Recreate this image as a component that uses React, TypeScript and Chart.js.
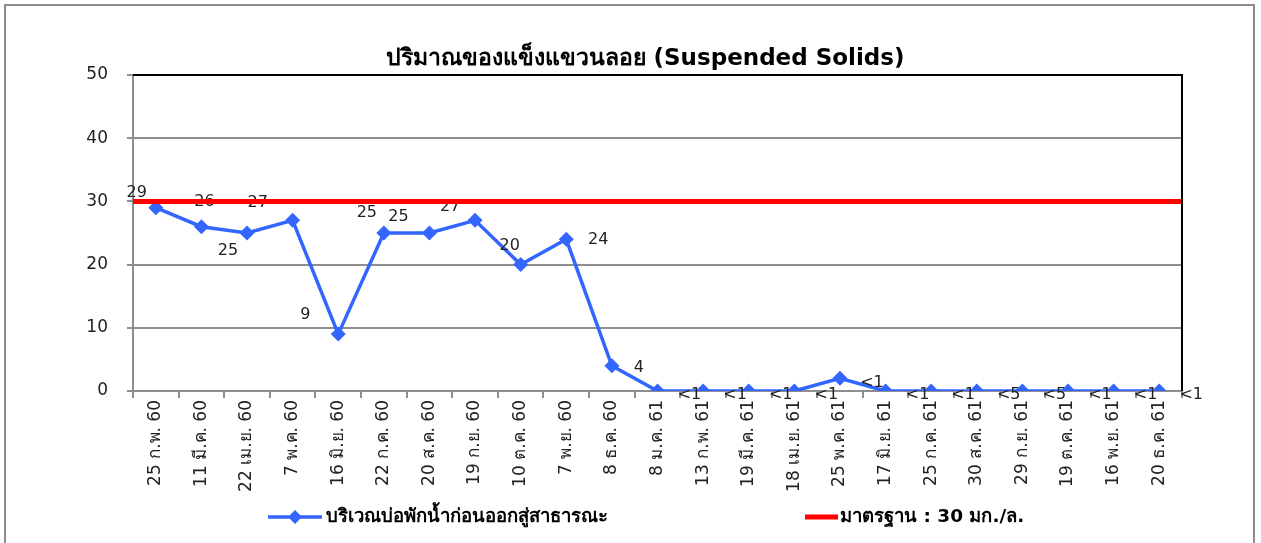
import React, { useEffect, useRef } from 'react';
import { Chart, registerables } from 'chart.js';

Chart.register(...registerables);

const chartTitle = 'ปริมาณของแข็งแขวนลอย (Suspended Solids)';
const categories = [
  '25 ก.พ. 60', '11 มี.ค. 60', '22 เม.ย. 60', '7 พ.ค. 60', '16 มิ.ย. 60', '22 ก.ค. 60',
  '20 ส.ค. 60', '19 ก.ย. 60', '10 ต.ค. 60', '7 พ.ย. 60', '8 ธ.ค. 60', '8 ม.ค. 61',
  '13 ก.พ. 61', '19 มี.ค. 61', '18 เม.ย. 61', '25 พ.ค. 61', '17 มิ.ย. 61', '25 ก.ค. 61',
  '30 ส.ค. 61', '29 ก.ย. 61', '19 ต.ค. 61', '16 พ.ย. 61', '20 ธ.ค. 61',
];
const siteValues = [29, 26, 25, 27, 9, 25, 25, 27, 20, 24, 4, 0, 0, 0, 0, 2, 0, 0, 0, 0, 0, 0, 0];
const siteLabels = ['29', '26', '25', '27', '9', '25', '25', '27', '20', '24', '4',
  '<1', '<1', '<1', '<1', '<1', '<1', '<1', '<5', '<5', '<1', '<1', '<1'];
const standardValues = [30, 30];
const seriesNames = ['บริเวณบ่อพักน้ำก่อนออกสู่สาธารณะ', 'มาตรฐาน : 30 มก./ล.'];
const yMin = 0;
const yMax = 50;
const yStep = 10;

// label placement (style): pixel offsets of each data label from its point
const labelOffsets: [number, number][] = [
  [-19, -15], [3, -25], [-19, 18], [-35, -18], [-33, -19], [-17, -20], [-31, -16],
  [-25, -14], [-11, -19], [32, 1], [27, 2],
  [32, 4], [32, 4], [32, 4], [32, 4], [32, 4], [32, 4], [32, 4], [32, 4], [32, 4], [32, 4], [32, 4], [32, 4],
];

const BLUE = '#3366FF';
const RED = '#FF0000';
const GRID = '#8e8e8e';
const FONT = "'DejaVu Sans', sans-serif";

const decor = {
  id: 'decor',
  beforeDraw(chart: any) {
    const { ctx, width, height } = chart;
    ctx.save();
    ctx.fillStyle = '#ffffff';
    ctx.fillRect(0, 0, width, height);
    ctx.strokeStyle = '#8c8c8c';
    ctx.lineWidth = 2;
    ctx.beginPath();
    ctx.moveTo(5, height + 5);
    ctx.lineTo(5, 5);
    ctx.lineTo(width - 7, 5);
    ctx.lineTo(width - 7, height + 5);
    ctx.stroke();
    ctx.restore();
  },
  afterDatasetDraw(chart: any, args: any) {
    if (args.index !== 0) return;
    const meta = chart.getDatasetMeta(0);
    const ctx = chart.ctx;
    ctx.save();
    ctx.font = `16px ${FONT}`;
    ctx.fillStyle = '#222';
    ctx.textAlign = 'center';
    ctx.textBaseline = 'middle';
    meta.data.forEach((pt: any, i: number) => {
      const [dx, dy] = labelOffsets[i] || [30, 0];
      ctx.fillText(siteLabels[i], pt.x + dx, pt.y + dy);
    });
    ctx.restore();
  },
  afterDraw(chart: any) {
    const { ctx, chartArea } = chart;
    ctx.save();
    // plot border top/right
    ctx.strokeStyle = '#000';
    ctx.lineWidth = 2;
    ctx.beginPath();
    ctx.moveTo(chartArea.left, chartArea.top);
    ctx.lineTo(chartArea.right, chartArea.top);
    ctx.lineTo(chartArea.right, chartArea.bottom);
    ctx.stroke();
    // title
    ctx.fillStyle = '#000';
    ctx.font = `bold 23px ${FONT}`;
    ctx.textAlign = 'center';
    ctx.textBaseline = 'middle';
    ctx.fillText(chartTitle, 645, 59);
    // legend
    const ly = 517;
    ctx.strokeStyle = BLUE;
    ctx.lineWidth = 3.5;
    ctx.beginPath();
    ctx.moveTo(268, ly);
    ctx.lineTo(322, ly);
    ctx.stroke();
    ctx.fillStyle = BLUE;
    ctx.beginPath();
    ctx.moveTo(295, ly - 7);
    ctx.lineTo(302, ly);
    ctx.lineTo(295, ly + 7);
    ctx.lineTo(288, ly);
    ctx.closePath();
    ctx.fill();
    ctx.strokeStyle = RED;
    ctx.lineWidth = 5;
    ctx.beginPath();
    ctx.moveTo(805, ly);
    ctx.lineTo(838, ly);
    ctx.stroke();
    ctx.fillStyle = '#000';
    ctx.font = `bold 18.5px ${FONT}`;
    ctx.textAlign = 'left';
    ctx.fillText(seriesNames[0], 326, ly);
    ctx.fillText(seriesNames[1], 840, ly);
    ctx.restore();
  },
};

export default function App() {
  const ref = useRef<HTMLCanvasElement | null>(null);
  useEffect(() => {
    if (!ref.current) return;
    const chart = new Chart(ref.current, {
      type: 'line',
      data: {
        labels: categories,
        datasets: [
          {
            label: seriesNames[0],
            data: siteValues,
            borderColor: BLUE,
            backgroundColor: BLUE,
            borderWidth: 3.5,
            pointStyle: 'rectRot',
            pointRadius: 7.5,
            pointBorderWidth: 0,
            pointBackgroundColor: BLUE,
            tension: 0,
            order: 2,
            xAxisID: 'x',
          },
          {
            label: seriesNames[1],
            data: standardValues,
            borderColor: RED,
            borderWidth: 5,
            pointRadius: 0,
            order: 1,
            xAxisID: 'x2',
          },
        ],
      },
      options: {
        responsive: false,
        animation: false,
        layout: { padding: { top: 75, right: 79, bottom: 40, left: 0 } },
        plugins: {
          legend: { display: false },
          title: { display: false },
          tooltip: { enabled: false },
        },
        scales: {
          x: {
            type: 'category',
            offset: true,
            afterFit: (s: any) => { s.height = 112; },
            grid: { offset: true, drawOnChartArea: false, drawTicks: true, tickLength: 7, color: GRID, lineWidth: 2 },
            border: { color: GRID, width: 2 },
            ticks: { minRotation: 90, maxRotation: 90, autoSkip: false, padding: 2, color: '#222', font: { family: FONT, size: 17 } },
          },
          x2: {
            type: 'category',
            labels: ['a', 'b'],
            offset: false,
            display: false,
          },
          y: {
            min: yMin,
            max: yMax,
            afterFit: (s: any) => { s.width = 133; },
            grid: { color: GRID, lineWidth: 2, tickLength: 6 },
            border: { color: GRID, width: 2 },
            ticks: { stepSize: yStep, padding: 19, color: '#222', font: { family: FONT, size: 17 } },
          },
        },
      },
      plugins: [decor],
    });
    return () => chart.destroy();
  }, []);
  return (
    <div style={{ position: 'fixed', left: 0, top: 0, width: 1261, height: 543, background: '#fff' }}>
      <canvas ref={ref} width={1261} height={543} />
    </div>
  );
}
